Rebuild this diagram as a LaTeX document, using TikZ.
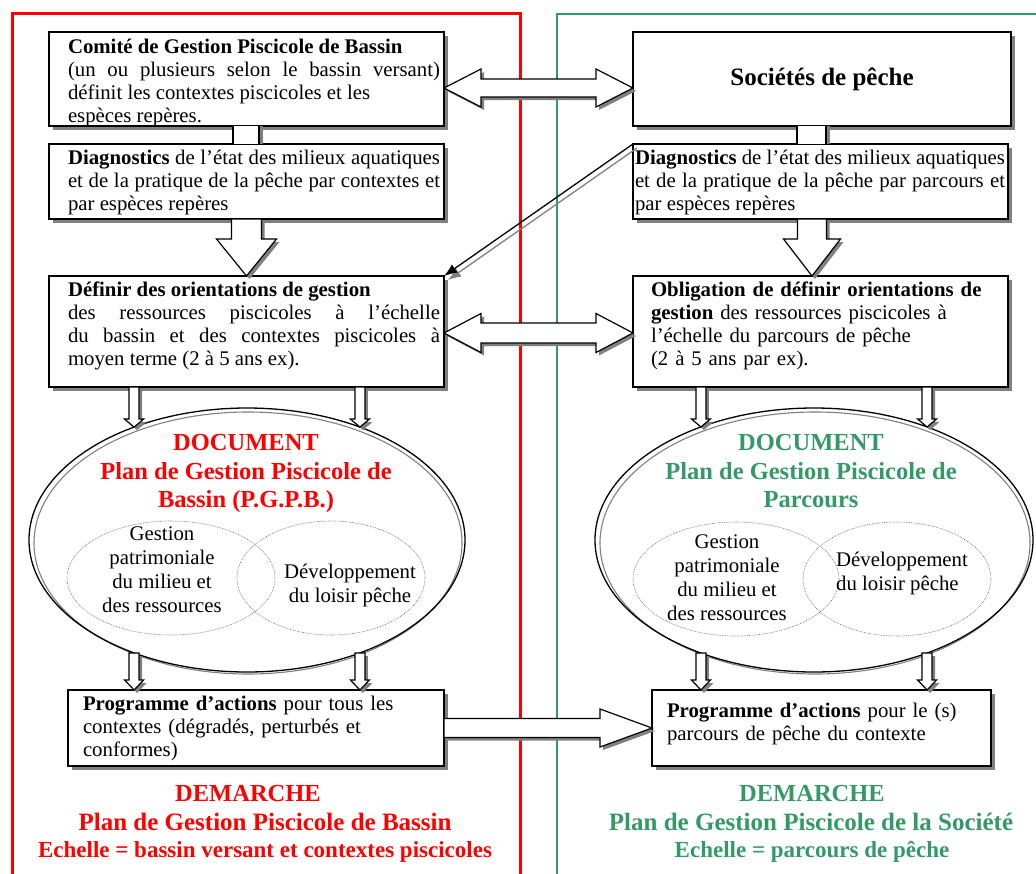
\documentclass[tikz,border=0pt]{standalone}
\usepackage{fontspec}
\setmainfont{Liberation Serif}
\usetikzlibrary{calc,shadows,shapes.geometric,arrows.meta}

\definecolor{framered}{HTML}{FF0000}
\definecolor{seagreen}{HTML}{339966}
\definecolor{shadowgray}{HTML}{808080}

% strut fixing the first baseline 20pt below the top of a text block
\newcommand\topstrut{\rule{0pt}{20pt}}

% hollow block arrows with a grey drop shadow
% #1 start, #2 tip, #3 shaft half width, #4 head half width, #5 head length
\newcommand\hollowdown[5]{%
  \foreach \o/\sty in {3pt/arrowshade,0pt/blockarrow}{%
    \path[\sty] let \p1=#1, \p2=#2 in
      (\x2-#3pt+\o,\y1-\o) -- (\x2-#3pt+\o,\y2+#5pt-\o) -- (\x2-#4pt+\o,\y2+#5pt-\o)
      -- (\x2+\o,\y2-\o) -- (\x2+#4pt+\o,\y2+#5pt-\o) -- (\x2+#3pt+\o,\y2+#5pt-\o)
      -- (\x2+#3pt+\o,\y1-\o) -- cycle;}}
\newcommand\hollowdouble[5]{%
  \foreach \o/\sty in {3pt/arrowshade,0pt/blockarrow}{%
    \path[\sty] let \p1=#1, \p2=#2 in
      (\x1+\o,\y1-\o) -- (\x1+#5pt+\o,\y1+#4pt-\o) -- (\x1+#5pt+\o,\y1+#3pt-\o)
      -- (\x2-#5pt+\o,\y1+#3pt-\o) -- (\x2-#5pt+\o,\y1+#4pt-\o) -- (\x2+\o,\y1-\o)
      -- (\x2-#5pt+\o,\y1-#4pt-\o) -- (\x2-#5pt+\o,\y1-#3pt-\o)
      -- (\x1+#5pt+\o,\y1-#3pt-\o) -- (\x1+#5pt+\o,\y1-#4pt-\o) -- cycle;}}
\newcommand\hollowright[5]{%
  \foreach \o/\sty in {3pt/arrowshade,0pt/blockarrow}{%
    \path[\sty] let \p1=#1, \p2=#2 in
      (\x1+\o,\y2+#3pt-\o) -- (\x2-#5pt+\o,\y2+#3pt-\o) -- (\x2-#5pt+\o,\y2+#4pt-\o)
      -- (\x2+\o,\y2-\o) -- (\x2-#5pt+\o,\y2-#4pt-\o) -- (\x2-#5pt+\o,\y2-#3pt-\o)
      -- (\x1+\o,\y2-#3pt-\o) -- cycle;}}

\tikzset{
  box/.style={draw, line width=1.2pt, fill=white, inner sep=0pt, outer sep=0pt,
    drop shadow={shadow xshift=4pt, shadow yshift=-4pt, fill=shadowgray, opacity=1}},
  boxtext/.style={anchor=north west, inner sep=0pt, outer sep=0pt,
    font=\fontsize{20.8}{23.3}\selectfont, align=justify},
  boxtextl/.style={boxtext, align=left},
  arrowshade/.style={fill=shadowgray},
  blockarrow/.style={fill=white, draw=black, line width=1.2pt, line join=miter},
  bigell/.style={ellipse, draw, line width=1.3pt, inner sep=0pt, outer sep=0pt},
  ellshade/.style={draw=shadowgray, line width=1.1pt},
  subell/.style={ellipse, draw=black!55, line width=0.6pt, dash pattern=on 0.8pt off 0.9pt,
    inner sep=0pt, outer sep=0pt},
  subtext/.style={anchor=north, inner sep=0pt, align=center,
    font=\fontsize{20.8}{24}\selectfont},
  doctitle/.style={anchor=base, inner sep=0pt, font=\fontsize{24.5}{28}\selectfont\bfseries},
  diagarrow/.style={line width=1.3pt, -{Latex[length=13pt,width=10pt]}},
}

\begin{document}
\begin{tikzpicture}[x=1pt,y=-1pt]
\useasboundingbox (0,0) rectangle (1036,873);
\clip (0,0) rectangle (1036,873);

% the two panels
\draw[framered, line width=3pt] (12,13) rectangle (520,900);
\draw[seagreen, line width=2.6pt] (557,14) rectangle (1050,900);

% document ellipses
\draw[ellshade] (248,543) ellipse [x radius=214pt, y radius=131pt];
\node[bigell, minimum width=436pt, minimum height=264pt] (ellL) at (247,540) {};
\draw[ellshade] (815,543) ellipse [x radius=215pt, y radius=131pt];
\node[bigell, minimum width=438pt, minimum height=264pt] (ellR) at (814,540) {};

\node[subell, minimum width=208pt, minimum height=114pt] (patL) at (171,578) {};
\node[subell, minimum width=188pt, minimum height=114pt] (devL) at (331,578) {};
\node[subell, minimum width=206pt, minimum height=114pt] (patR) at (736,579) {};
\node[subell, minimum width=188pt, minimum height=114pt] (devR) at (897,579) {};

% document titles
\node[doctitle, text=framered] (docL1) at (246,450) {DOCUMENT};
\node[doctitle, text=framered] (docL2) at (246,479) {Plan de Gestion Piscicole de};
\node[doctitle, text=framered] (docL3) at (246,507) {Bassin (P.G.P.B.)};
\node[doctitle, text=seagreen] (docR1) at (811,450) {DOCUMENT};
\node[doctitle, text=seagreen] (docR2) at (811,479) {Plan de Gestion Piscicole de};
\node[doctitle, text=seagreen] (docR3) at (811,507) {Parcours};

% the two fields of each plan
\node[subtext] (patLT) at (162,520) {\topstrut Gestion\\patrimoniale\\du milieu et\\des ressources};
\node[subtext] (devLT) at (350,558) {\topstrut Développement\\du loisir pêche};
\node[subtext] (patRT) at (727,528) {\topstrut Gestion\\patrimoniale\\du milieu et\\des ressources};
\node[subtext, anchor=north west, align=left] (devRT) at (836,546) {\topstrut Développement\\du loisir pêche};

% boxes, left panel
\node[box, minimum width=395pt, minimum height=94pt] (comite) at (246.5,79) {};
\node[boxtext, text width=372pt] (comiteT) at ([shift={(19pt,-1pt)}]comite.north west)
  {\topstrut\textbf{Comité de Gestion Piscicole de Bassin}\newline
   (un ou plusieurs selon le bassin versant)\linebreak
   définit les contextes piscicoles et les\newline
   espèces repères.};
\node[box, minimum width=395pt, minimum height=75pt] (diagL) at (246.5,181.5) {};
\node[boxtext, text width=372pt] (diagLT) at ([shift={(19pt,0pt)}]diagL.north west)
  {\topstrut\textbf{Diagnostics} de l’état des milieux aquatiques\linebreak
   et de la pratique de la pêche par contextes et\linebreak
   par espèces repères};
\node[box, minimum width=395pt, minimum height=111pt] (defL) at (246.5,331.5) {};
\node[boxtext, text width=372pt] (defLT) at ([shift={(19pt,0pt)}]defL.north west)
  {\topstrut\textbf{Définir des orientations de gestion}\newline
   des ressources piscicoles à l’échelle\linebreak
   du bassin et des contextes piscicoles à\linebreak
   moyen terme (2 à 5 ans ex).};
\node[box, minimum width=376pt, minimum height=76pt] (progL) at (256,728) {};
\node[boxtextl, text width=350pt] (progLT) at ([shift={(15pt,0pt)}]progL.north west)
  {\topstrut\textbf{Programme d’actions} pour tous les\\
   contextes (dégradés, perturbés et\\
   conformes)};

% boxes, right panel
\node[box, minimum width=378pt, minimum height=94pt,
      font=\fontsize{25}{28}\selectfont\bfseries] (soc) at (822,79) {Sociétés de pêche};
\node[box, minimum width=375pt, minimum height=75pt] (diagR) at (820.5,181.5) {};
\node[boxtext, text width=370pt] (diagRT) at ([shift={(2pt,0pt)}]diagR.north west)
  {\topstrut\textbf{Diagnostics} de l’état des milieux aquatiques\linebreak
   et de la pratique de la pêche par parcours et\linebreak
   par espèces repères};
\node[box, minimum width=375pt, minimum height=111pt] (obl) at (820.5,331.5) {};
\node[boxtextl, text width=350pt] (oblT) at ([shift={(18pt,0pt)}]obl.north west)
  {\topstrut\textbf{Obligation de définir orientations de}\\
   \textbf{gestion} des ressources piscicoles à\\
   l’échelle du parcours de pêche\\
   (2 à 5 ans par ex).};
\node[box, minimum width=339pt, minimum height=76pt] (progR) at (821.5,728) {};
\node[boxtextl, text width=320pt] (progRT) at ([shift={(15pt,-7pt)}]progR.north west)
  {\topstrut\textbf{Programme d’actions} pour le (s)\\
   parcours de pêche du contexte};

% approach captions
\node[doctitle, text=framered] (demL1) at (248,801) {DEMARCHE};
\node[doctitle, text=framered, font=\fontsize{25}{28}\selectfont\bfseries] (demL2) at (265,830) {Plan de Gestion Piscicole de Bassin};
\node[doctitle, text=framered, font=\fontsize{23}{26}\selectfont\bfseries] (demL3) at (265,857) {Echelle = bassin versant et contextes piscicoles};
\node[doctitle, text=seagreen] (demR1) at (812,801) {DEMARCHE};
\node[doctitle, text=seagreen, font=\fontsize{25}{28}\selectfont\bfseries] (demR2) at (811,830) {Plan de Gestion Piscicole de la Société};
\node[doctitle, text=seagreen, font=\fontsize{23}{26}\selectfont\bfseries] (demR3) at (812,857) {Echelle = parcours de pêche};

% short links between the top boxes
\coordinate (stubLa) at ([xshift=184pt]comite.south west);
\coordinate (stubLb) at ([xshift=210pt]comite.south west);
\coordinate (stubRa) at ([xshift=164pt]soc.south west);
\coordinate (stubRb) at ([xshift=193pt]soc.south west);
\foreach \a/\b/\c in {stubLa/stubLb/diagL, stubRa/stubRb/diagR}{
  \fill[arrowshade] ([xshift=0pt]\b) rectangle ([xshift=4pt]\b |- \c.north);
  \fill[white] (\a) rectangle (\b |- \c.north);
  \draw[line width=1.2pt] (\a) -- (\a |- \c.north) (\b) -- (\b |- \c.north);
}

% large arrows towards the orientation boxes
\hollowdown{(diagL.south)}{(defL.north)}{15}{30}{37}
\coordinate (dR) at ([xshift=179pt]diagR.south west);
\hollowdown{(dR)}{(dR |- obl.north)}{14.5}{28.5}{37}

% exchanges between the two panels
\coordinate (dbl1) at ([yshift=-56pt]comite.north east);
\hollowdouble{(dbl1)}{(dbl1 -| soc.west)}{9}{19}{37}
\coordinate (dbl2) at ([yshift=-57pt]defL.north east);
\hollowdouble{(dbl2)}{(dbl2 -| obl.west)}{10}{19.5}{37}
\hollowright{(progL.east)}{(progR.west)}{9.5}{19}{52}

% diagnostics of the fishing stretches feed the basin orientations
\draw[diagarrow, shadowgray] ([shift={(4pt,-4pt)}]diagR.north west) -- ([shift={(4pt,-4pt)}]defL.north east);
\draw[diagarrow] (diagR.north west) -- (defL.north east);

% orientations lead to the documents, documents to the programmes
\hollowdown{(ellL.135 |- defL.south)}{(ellL.135)}{5}{9.5}{8}
\hollowdown{(ellL.45 |- defL.south)}{(ellL.45)}{5}{9.5}{8}
\hollowdown{(ellR.135 |- obl.south)}{(ellR.135)}{5}{9.5}{8}
\hollowdown{(ellR.45 |- obl.south)}{(ellR.45)}{5}{9.5}{8}
\hollowdown{(ellL.225)}{(ellL.225 |- progL.north)}{5}{9.5}{10}
\hollowdown{(ellL.315)}{(ellL.315 |- progL.north)}{5}{9.5}{10}
\hollowdown{(ellR.225)}{(ellR.225 |- progR.north)}{5}{9.5}{10}
\hollowdown{(ellR.315)}{(ellR.315 |- progR.north)}{5}{9.5}{10}
\end{tikzpicture}
\end{document}
